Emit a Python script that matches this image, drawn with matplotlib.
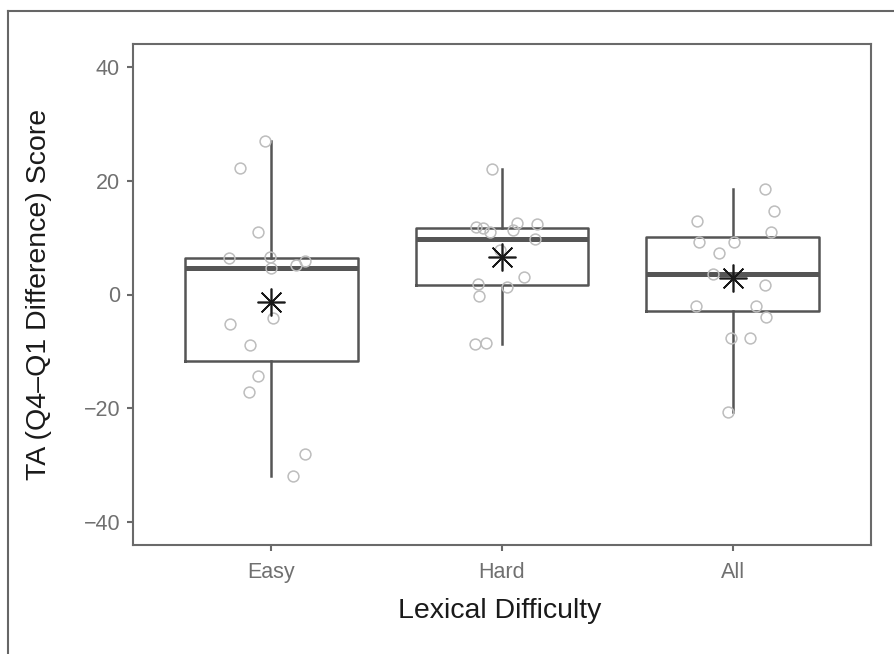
import numpy as np
import matplotlib
matplotlib.use("Agg")
import matplotlib.pyplot as plt
from matplotlib.lines import Line2D

plt.rcParams['font.family'] = ['Liberation Sans', 'DejaVu Sans']

categories = ["Easy", "Hard", "All"]

easy_scores = [27.0, 22.3, 10.9, 6.4, 6.5, 4.6, 5.2, 5.9, -4.1, -5.2, -8.9, -14.4, -17.1, -28.0, -31.9]
hard_scores = [22.0, 11.8, 11.6, 10.9, 12.6, 11.3, 12.4, 9.7, 7.8, 3.1, 1.8, -0.3, 1.4, -8.65, -8.6]
all_scores = [18.5, 14.7, 12.9, 11.0, 9.2, 9.2, 7.35, 3.6, 1.7, -2.0, -2.0, -3.9, -7.6, -7.6, -20.6]

# horizontal jitter of each point (category units)
easy_jitter = [-0.026, -0.134, -0.056, -0.183, -0.004, 0.0, 0.108, 0.147, 0.007, -0.178, -0.094, -0.058, -0.097, 0.147, 0.094]
hard_jitter = [-0.042, -0.113, -0.081, -0.052, 0.064, 0.049, 0.153, 0.142, -0.009, 0.094, -0.104, -0.101, 0.023, -0.116, -0.069]
all_jitter = [0.142, 0.178, -0.153, 0.166, -0.147, 0.004, -0.061, -0.085, 0.142, -0.157, 0.103, 0.146, -0.009, 0.077, -0.020]

y_ticks = [-40, -20, 0, 20, 40]

groups = [easy_scores, hard_scores, all_scores]
jitters = [easy_jitter, hard_jitter, all_jitter]
positions = np.arange(1, len(categories) + 1)

W, H = 895, 654
fig = plt.figure(figsize=(W / 100, H / 100), dpi=100)
ax = fig.add_axes([133 / W, 1 - 545 / H, (871 - 133) / W, (545 - 44) / H])

box_col = '#555555'
ax.boxplot(groups, positions=positions, widths=0.75, whis=1.5, showfliers=False,
           showcaps=False, patch_artist=False,
           boxprops=dict(color=box_col, linewidth=1.8),
           whiskerprops=dict(color=box_col, linewidth=1.8),
           medianprops=dict(color=box_col, linewidth=3.6, solid_capstyle='butt'),
           zorder=2)

for p, g, j in zip(positions, groups, jitters):
    ax.plot(p + np.array(j), g, linestyle='none', marker='o', markersize=7.8,
            markerfacecolor='none', markeredgecolor='#bdbdbd', markeredgewidth=1.1,
            zorder=3)
    ax.plot([p], [np.mean(g)], linestyle='none', marker=(8, 2, 0), markersize=20,
            markeredgecolor='#1a1a1a', markeredgewidth=1.2, zorder=4)

ax.set_xlim(0.4, 3.6)
ax.set_ylim(-44, 44)
ax.set_xticks(positions)
ax.set_xticklabels(categories)
ax.set_yticks(y_ticks)
ax.set_yticklabels([str(t).replace('-', '\u2212') for t in y_ticks])

for s in ax.spines.values():
    s.set_color('#6a6a6a')
    s.set_linewidth(1.5)
ax.tick_params(axis='both', colors='#6a6a6a', labelcolor='#707070', length=4.3,
               width=1.5, labelsize=15.5)
ax.tick_params(axis='x', pad=8)
ax.tick_params(axis='y', pad=5)

fig.text(500 / W, 1 - 618 / H, 'Lexical Difficulty', ha='center', va='baseline',
         fontsize=20.5, color='#1a1a1a')
fig.text(39 / W, 1 - 294.5 / H, 'TA (Q4\u2013Q1 Difference) Score', ha='center',
         va='center', rotation=90, fontsize=20.5, color='#1a1a1a')

# partial outer frame
fig.add_artist(Line2D([8 / W, 1.0], [1 - 11 / H, 1 - 11 / H], color='#666666', linewidth=1.5,
                      transform=fig.transFigure))
fig.add_artist(Line2D([8 / W, 8 / W], [1 - 11 / H, 0.0], color='#666666', linewidth=1.5,
                      transform=fig.transFigure))

fig.savefig('out.png', dpi=100)
